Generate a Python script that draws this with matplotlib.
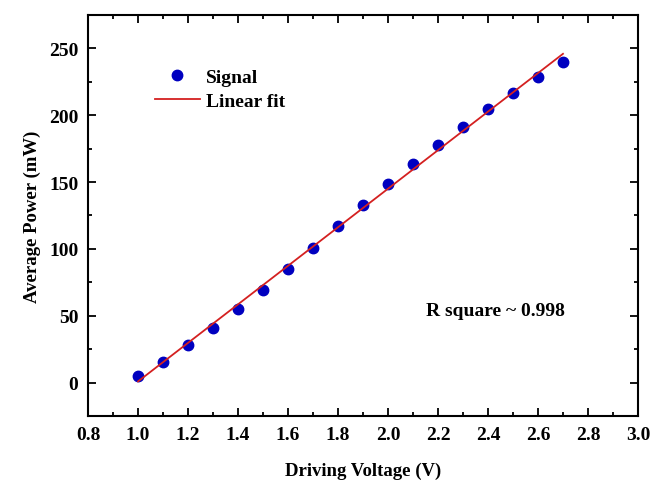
import numpy as np
import matplotlib
matplotlib.use("Agg")
import matplotlib.pyplot as plt
from matplotlib.ticker import MultipleLocator

plt.rcParams['font.family'] = ['Liberation Serif', 'DejaVu Serif']
plt.rcParams['font.weight'] = 'bold'

voltage = [1.0, 1.1, 1.2, 1.3, 1.4, 1.5, 1.6, 1.7, 1.8,
           1.9, 2.0, 2.1, 2.2, 2.3, 2.4, 2.5, 2.6, 2.7]
power = [5.0, 15.7, 27.8, 41.0, 55.2, 69.6, 85.3, 100.7, 117.0,
         133.0, 148.7, 163.7, 177.8, 191.5, 204.5, 216.4, 228.4, 240.0]

x = np.array(voltage)
y = np.array(power)
slope, intercept = np.polyfit(x, y, 1)
fit_x = np.array([x.min(), x.max()])

fig = plt.figure(figsize=(6.54, 4.81), dpi=100)
ax = fig.add_axes([0.1346, 0.1331, 0.8409, 0.8336])

ax.plot(x, y, 'o', color='#0000c0', markersize=7.5, label='Signal', zorder=3)
ax.plot(fit_x, slope * fit_x + intercept, '-', color='#d42020', lw=1.3,
        label='Linear fit', zorder=4)

ax.set_xlim(0.8, 3.0)
ax.set_ylim(-25, 275)
ax.xaxis.set_minor_locator(MultipleLocator(0.1))
ax.yaxis.set_minor_locator(MultipleLocator(25))
xt = np.arange(0.8, 3.01, 0.2)
ax.set_xticks(xt)
ax.set_xticklabels([f'{v:.1f}' for v in xt])
ax.set_yticks([0, 50, 100, 150, 200, 250])

ax.tick_params(which='both', direction='in', top=True, right=True,
               width=1.3, labelsize=14)
ax.tick_params(which='major', length=6, pad=7)
ax.tick_params(which='minor', length=3)
for spine in ax.spines.values():
    spine.set_linewidth(1.5)

ax.set_xlabel('Driving Voltage (V)', fontsize=13.5, fontweight='bold', labelpad=14)
ax.set_ylabel('Average Power (mW)', fontsize=13.5, fontweight='bold', labelpad=6)

ax.legend(loc='upper left', bbox_to_anchor=(0.122, 0.868), frameon=False,
          fontsize=14, handlelength=2.3, handletextpad=0.3, labelspacing=0.35,
          borderpad=0, borderaxespad=0)

ax.text(2.152, 54, 'R square ~ 0.998', fontsize=14, fontweight='bold',
        ha='left', va='center')

fig.savefig('out.png', dpi=100)
